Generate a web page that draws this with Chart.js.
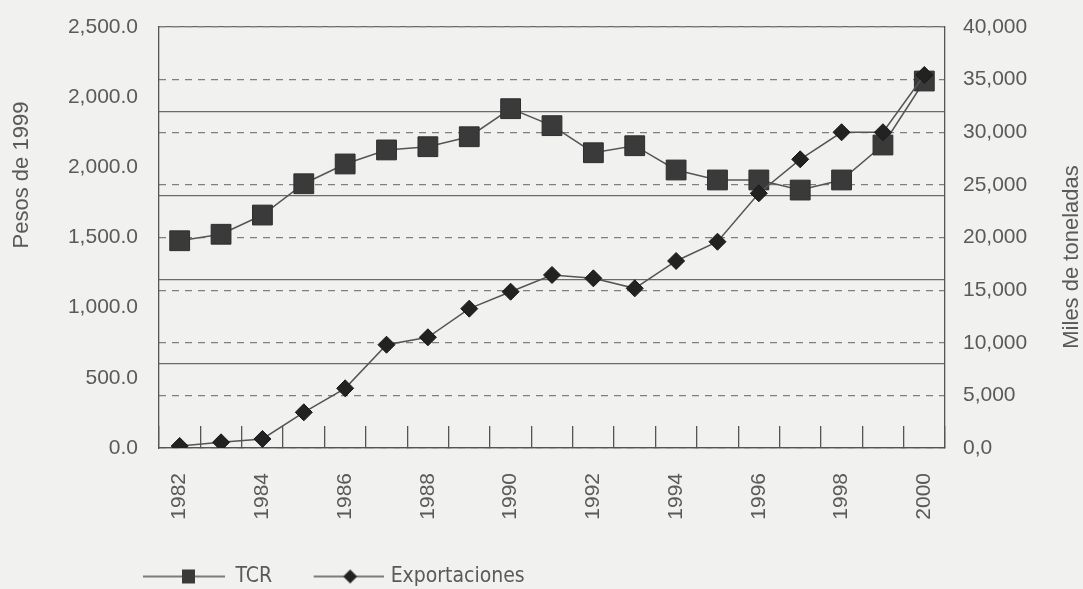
<!DOCTYPE html>
<html><head><meta charset="utf-8">
<script src="https://cdn.jsdelivr.net/npm/chart.js@4"></script>
<style>html,body{margin:0;padding:0;background:#f1f1ef;overflow:hidden;}</style>
</head><body>
<canvas id="c" width="1083" height="589" style="width:1083px;height:589px;display:block"></canvas>
<script>
const years = ['1982','1983','1984','1985','1986','1987','1988','1989','1990','1991','1992','1993','1994','1995','1996','1997','1998','1999','2000'];
const tcr = [1477,1523,1660,1883,2024,2124,2147,2218,2418,2297,2104,2154,1981,1910,1910,1838,1910,2159,2615];
const exportaciones = [190,540,855,3390,5670,9815,10520,13240,14850,16440,16120,15170,17770,19600,24200,27430,30000,30000,35440];
const leftTickLabels = ['0.0','500.0','1,000.0','1,500.0','2,000.0','2,000.0','2,500.0'];
const rightTickLabels = ['0,0','5,000','10,000','15,000','20,000','25,000','30,000','35,000','40,000'];
const leftTitle = 'Pesos de 1999';
const rightTitle = 'Miles de toneladas';
const seriesNames = ['TCR','Exportaciones'];

const TXT = '#5a5a5a';
const FONT = "'Liberation Sans', Arial, sans-serif";
const NARROW = "'Liberation Sans Narrow', 'DejaVu Sans Condensed', sans-serif";
const NONE = 'rgba(0,0,0,0)';

function legendImage(w, lineFrom, lineTo, cx, kind) {
  const cv = document.createElement('canvas');
  cv.width = w; cv.height = 20;
  const g = cv.getContext('2d');
  g.strokeStyle = '#555'; g.lineWidth = 1.5;
  g.beginPath(); g.moveTo(lineFrom, 10); g.lineTo(lineTo, 10); g.stroke();
  g.fillStyle = kind === 'rect' ? '#3a3a3a' : '#222';
  if (kind === 'rect') { g.fillRect(cx - 6.5, 3, 13, 14); }
  else { g.beginPath(); g.moveTo(cx - 7, 10); g.lineTo(cx, 3); g.lineTo(cx + 7, 10); g.lineTo(cx, 17); g.closePath(); g.fill(); }
  return cv;
}
const tcrLegendImg = legendImage(82, 0, 82, 45.5, 'rect');
const expLegendImg = legendImage(89, 19, 89, 55.5, 'diamond');

const bgPlugin = {
  id: 'bg',
  beforeDraw(chart) {
    const ctx = chart.ctx;
    ctx.save(); ctx.fillStyle = '#f1f1ef'; ctx.fillRect(0, 0, chart.width, chart.height); ctx.restore();
  }
};
const legendShift = {
  id: 'legendShift',
  afterLayout(chart) {
    const lg = chart.legend;
    if (lg) { lg.left += 117; lg.right += 117; }
  }
};
const sideTitles = {
  id: 'sideTitles',
  afterDraw(chart) {
    const { ctx, chartArea: a } = chart;
    ctx.save();
    ctx.font = '22px ' + FONT; ctx.fillStyle = TXT; ctx.textAlign = 'center'; ctx.textBaseline = 'middle';
    ctx.save(); ctx.translate(a.left - 137, a.top + 148); ctx.rotate(-Math.PI / 2); ctx.fillText(leftTitle, 0, 0); ctx.restore();
    ctx.save(); ctx.translate(a.right + 127, a.top + 230); ctx.rotate(-Math.PI / 2); ctx.fillText(rightTitle, 0, 0); ctx.restore();
    ctx.restore();
  }
};

new Chart(document.getElementById('c'), {
  type: 'line',
  data: {
    labels: years,
    datasets: [
      { label: seriesNames[0], data: tcr, yAxisID: 'y', order: 1,
        borderColor: '#555', borderWidth: 1.5, pointStyle: 'rect', pointRadius: 14,
        pointBackgroundColor: '#3a3a3a', pointBorderColor: '#2e2e2e', pointBorderWidth: 1, tension: 0 },
      { label: seriesNames[1], data: exportaciones, yAxisID: 'y1', order: 0,
        borderColor: '#555', borderWidth: 1.5, pointStyle: 'rectRot', pointRadius: 8.5,
        pointBackgroundColor: '#222', pointBorderColor: '#1a1a1a', pointBorderWidth: 1, tension: 0 }
    ]
  },
  options: {
    responsive: false, animation: false, devicePixelRatio: 1,
    layout: { padding: { left: 0, top: 27, right: 0, bottom: -8 } },
    plugins: {
      tooltip: { enabled: false },
      legend: {
        position: 'bottom', align: 'start',
        labels: {
          usePointStyle: true, pointStyleWidth: 82, padding: 26, color: TXT,
          font: { family: NARROW, size: 21 },
          generateLabels() {
            return [
              { text: seriesNames[0], pointStyle: tcrLegendImg, fillStyle: '#3a3a3a', strokeStyle: '#555', lineWidth: 0, hidden: false, datasetIndex: 0, fontColor: TXT },
              { text: seriesNames[1], pointStyle: expLegendImg, fillStyle: '#222', strokeStyle: '#555', lineWidth: 0, hidden: false, datasetIndex: 1, fontColor: TXT }
            ];
          }
        }
      }
    },
    scales: {
      x: {
        type: 'category', offset: true,
        grid: { offset: true, drawOnChartArea: false, drawTicks: true, tickLength: -22, color: '#555', lineWidth: 1.3 },
        border: { display: true, color: '#555', width: 1.3 },
        ticks: { autoSkip: false, minRotation: 90, maxRotation: 90, padding: 47, color: TXT,
          font: { family: FONT, size: 21 },
          callback: (v, i) => (i % 2 === 0 ? years[i] : '') },
        afterFit(s) { s.height = 92; }
      },
      yg: {
        position: 'left', min: 0, max: 5,
        ticks: { display: false, stepSize: 1 },
        grid: { color: '#6a6a6a', lineWidth: 1.2, drawTicks: false },
        border: { display: false },
        afterFit(s) { s.width = 0; }
      },
      y: {
        position: 'left', min: 0, max: 3000,
        ticks: { stepSize: 500, padding: 0, color: TXT, font: { family: FONT, size: 21 },
          callback: (v, i) => leftTickLabels[i] },
        grid: { display: true, drawOnChartArea: false, drawTicks: true, tickLength: 21, color: NONE, tickColor: NONE },
        border: { display: true, color: '#555', width: 1.3 },
        afterFit(s) { s.width = 159; }
      },
      y1: {
        position: 'right', min: 0, max: 40000,
        ticks: { stepSize: 5000, padding: 0, color: TXT, font: { family: FONT, size: 21 },
          callback: (v, i) => rightTickLabels[i] },
        grid: { color: '#7f7f7f', lineWidth: 1.2, drawTicks: true, tickLength: 18, tickColor: NONE },
        border: { display: true, color: '#555', width: 1.3, dash: [7, 6] },
        afterFit(s) { s.width = 138; }
      }
    }
  },
  plugins: [bgPlugin, legendShift, sideTitles]
});
</script>
</body></html>
